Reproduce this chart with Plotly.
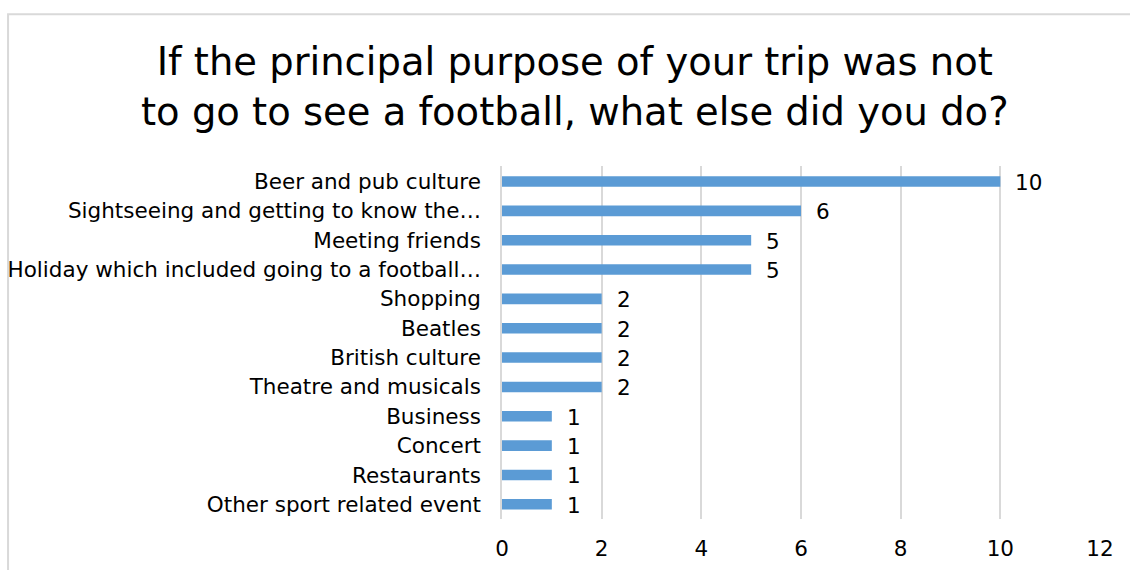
import plotly.graph_objects as go

# Survey responses: other activities on the trip
categories = [
    "Beer and pub culture",
    "Sightseeing and getting to know the…",
    "Meeting friends",
    "Holiday which included going to a football…",
    "Shopping",
    "Beatles",
    "British culture",
    "Theatre and musicals",
    "Business",
    "Concert",
    "Restaurants",
    "Other sport related event",
]
counts = [10, 6, 5, 5, 2, 2, 2, 2, 1, 1, 1, 1]
x_ticks = [0, 2, 4, 6, 8, 10, 12]
title_lines = [
    "If the principal purpose of your trip was not",
    "to go to see a football, what else did you do?",
]

FONT = "DejaVu Sans"
BAR_COLOR = "#5B9BD5"
LABEL_SIZE = 21.5

fig = go.Figure(
    go.Bar(
        x=counts,
        y=categories,
        orientation="h",
        marker=dict(color=BAR_COLOR, line=dict(width=0)),
        width=0.36,
        hoverinfo="x+y",
    )
)

# value labels beside each bar
for cat, val in zip(categories, counts):
    fig.add_annotation(
        x=val, y=cat, text=str(val), showarrow=False,
        xanchor="left", xshift=13, yshift=-1,
        font=dict(family=FONT, size=LABEL_SIZE, color="#000000"),
    )

# two-line chart title
fig.add_annotation(
    xref="paper", yref="paper", x=0.122, y=1.2266,
    xanchor="center", yanchor="middle", showarrow=False,
    text="<br>".join(title_lines),
    font=dict(family=FONT, size=38.5, color="#000000"),
)

# outer chart frame
fig.add_shape(
    type="rect", xref="paper", yref="paper",
    x0=-0.826, x1=1.07, y0=-0.2, y1=1.43,
    line=dict(color="#D9D9D9", width=2), fillcolor="rgba(0,0,0,0)", layer="below",
)

fig.update_layout(
    width=1130, height=570,
    margin=dict(l=502, r=30, t=166, b=51, autoexpand=False),
    paper_bgcolor="white", plot_bgcolor="white",
    showlegend=False,
    xaxis=dict(
        range=[0, 12], tickvals=x_ticks, ticktext=[str(t) for t in x_ticks],
        showgrid=True, gridcolor="#D9D9D9", gridwidth=1.5,
        zeroline=False, showline=False, ticks="",
        ticklabelstandoff=14, automargin=False,
        tickfont=dict(family=FONT, size=LABEL_SIZE, color="#000000"),
        fixedrange=True,
    ),
    yaxis=dict(
        autorange="reversed", showgrid=False,
        showline=True, linecolor="#D9D9D9", linewidth=1.5,
        ticks="", ticklabelstandoff=15, automargin=False,
        tickfont=dict(family=FONT, size=LABEL_SIZE, color="#000000"),
        fixedrange=True,
    ),
)

fig.write_html("out.html")
